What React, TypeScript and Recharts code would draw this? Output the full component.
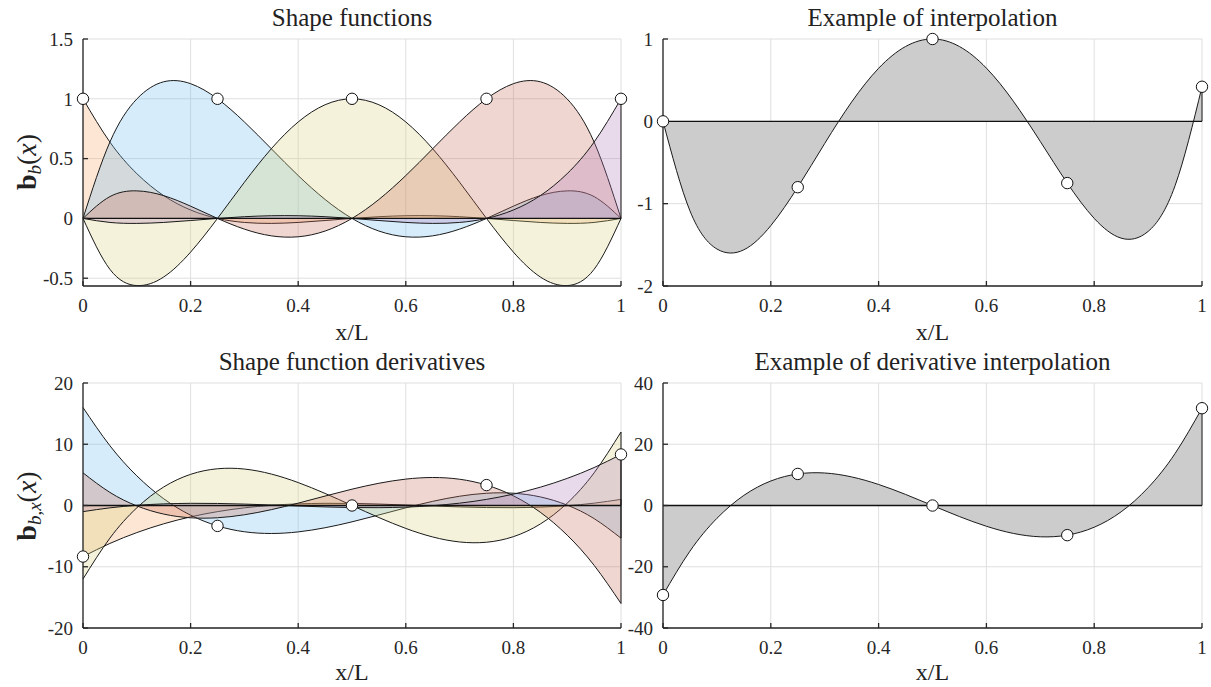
import React from "react";
import {
  ComposedChart,
  Area,
  Scatter,
  XAxis,
  YAxis,
  CartesianGrid,
  ReferenceLine,
} from "recharts";

// sample positions x/L and node positions
const xPos = [0, 0.05, 0.1, 0.15, 0.2, 0.25, 0.3, 0.35, 0.4, 0.45, 0.5, 0.55, 0.6, 0.65, 0.7, 0.75, 0.8, 0.85, 0.9, 0.95, 1];
const nodeX = [0, 0.25, 0.5, 0.75, 1];

// shape functions
const shape1 = [1, 0.6384, 0.3744, 0.1904, 0.0704, 0, -0.0336, -0.0416, -0.0336, -0.0176, 0, 0.0144, 0.0224, 0.0224, 0.0144, 0, -0.0176, -0.0336, -0.0416, -0.0336, 0];
const shape2 = [0, 0.6384, 0.9984, 1.1424, 1.1264, 1, 0.8064, 0.5824, 0.3584, 0.1584, 0, -0.1056, -0.1536, -0.1456, -0.0896, 0, 0.1024, 0.1904, 0.2304, 0.1824, 0];
const shape3 = [0, -0.4256, -0.5616, -0.4896, -0.2816, 0, 0.3024, 0.5824, 0.8064, 0.9504, 1, 0.9504, 0.8064, 0.5824, 0.3024, 0, -0.2816, -0.4896, -0.5616, -0.4256, 0];
const shape4 = [0, 0.1824, 0.2304, 0.1904, 0.1024, 0, -0.0896, -0.1456, -0.1536, -0.1056, 0, 0.1584, 0.3584, 0.5824, 0.8064, 1, 1.1264, 1.1424, 0.9984, 0.6384, 0];
const shape5 = [0, -0.0336, -0.0416, -0.0336, -0.0176, 0, 0.0144, 0.0224, 0.0224, 0.0144, 0, -0.0176, -0.0336, -0.0416, -0.0336, 0, 0.0704, 0.1904, 0.3744, 0.6384, 1];

// example interpolation
const interp = [0, -1.0872, -1.5506, -1.5604, -1.2669, -0.8, -0.2695, 0.2351, 0.6443, 0.9089, 1, 0.9087, 0.6464, 0.2446, -0.2448, -0.75, -1.1788, -1.4188, -1.3375, -0.7822, 0.42];

// shape function derivatives
const dShape1 = [-8.3333, -6.1947, -4.424, -2.9893, -1.8587, -1, -0.3813, 0.0293, 0.264, 0.3547, 0.3333, 0.232, 0.0827, -0.0827, -0.232, -0.3333, -0.3547, -0.264, -0.0293, 0.3813, 1];
const dShape2 = [16, 9.7653, 4.8427, 1.104, -1.5787, -3.3333, -4.288, -4.5707, -4.3093, -3.632, -2.6667, -1.5413, -0.384, 0.6773, 1.5147, 2, 2.0053, 1.4027, 0.064, -2.1387, -5.3333];
const dShape3 = [-12, -5.328, -0.384, 3.024, 5.088, 6, 5.952, 5.136, 3.744, 1.968, 0, -1.968, -3.744, -5.136, -5.952, -6, -5.088, -3.024, 0.384, 5.328, 12];
const dShape4 = [5.3333, 2.1387, -0.064, -1.4027, -2.0053, -2, -1.5147, -0.6773, 0.384, 1.5413, 2.6667, 3.632, 4.3093, 4.5707, 4.288, 3.3333, 1.5787, -1.104, -4.8427, -9.7653, -16];
const dShape5 = [-1, -0.3813, 0.0293, 0.264, 0.3547, 0.3333, 0.232, 0.0827, -0.0827, -0.232, -0.3333, -0.3547, -0.264, -0.0293, 0.3813, 1, 1.8587, 2.9893, 4.424, 6.1947, 8.3333];

// example derivative interpolation
const dInterp = [-29.22, -14.904, -4.198, 3.304, 8.004, 10.307, 10.616, 9.335, 6.869, 3.62, -0.007, -3.608, -6.78, -9.118, -10.22, -9.68, -7.096, -2.063, 5.823, 16.965, 31.767];

// node markers
const shapeNodes = [1, 1, 1, 1, 1];
const interpNodes = [0, -0.8, 1, -0.75, 0.42];
const dShapeNodes = [-8.3333, -3.3333, 0, 3.3333, 8.3333];
const dInterpNodes = [-29.22, 10.307, -0.007, -9.68, 31.767];

// ticks
const xTicks = [0, 0.2, 0.4, 0.6, 0.8, 1];
const shapeTicks = [-0.5, 0, 0.5, 1, 1.5];
const interpTicks = [-2, -1, 0, 1];
const dShapeTicks = [-20, -10, 0, 10, 20];
const dInterpTicks = [-40, -20, 0, 20, 40];

const W = 1211;
const H = 687;
const FONT = "'Liberation Serif', 'DejaVu Serif', serif";
const AXIS = "#262626";
const EDGE = "#1a1a1a";
const SHAPE_FILLS = ["#F8A566", "#6DBBEE", "#D8D27A", "#C86A55", "#B07AB8"];
const GRAY_FILL = ["#cccccc"];

type Box = { left: number; right: number; top: number; bottom: number };

type PanelProps = {
  series: number[][];
  fills: string[];
  fillOpacity: number;
  nodes: number[];
  yDomain: [number, number];
  yTicks: number[];
  box: Box;
};

function Panel({ series, fills, fillOpacity, nodes, yDomain, yTicks, box }: PanelProps) {
  const rows = xPos.map((x, i) => {
    const row: Record<string, number> = { x };
    series.forEach((s, j) => {
      row["s" + j] = s[i];
    });
    return row;
  });
  const nodeRows = nodeX.map((x, i) => ({ x, y: nodes[i] }));
  const last = xPos.length - 1;
  const tickStyle = { fontSize: 19, fill: AXIS, fontFamily: FONT };

  return (
    <div style={{ position: "absolute", left: 0, top: 0 }}>
      <ComposedChart
        width={W}
        height={H}
        data={rows}
        margin={{
          top: box.top,
          left: box.left - 60,
          right: W - box.right,
          bottom: H - box.bottom - 30,
        }}
      >
        <CartesianGrid stroke="#dfdfdf" strokeWidth={1} />
        <XAxis
          dataKey="x"
          type="number"
          domain={[0, 1]}
          ticks={xTicks}
          interval={0}
          height={30}
          tickSize={-5}
          tickMargin={18}
          tick={tickStyle}
          axisLine={{ stroke: AXIS, strokeWidth: 1.3 }}
          tickLine={{ stroke: AXIS, strokeWidth: 1.3 }}
        />
        <YAxis
          type="number"
          domain={yDomain}
          ticks={yTicks}
          interval={0}
          width={60}
          tickSize={-5}
          tickMargin={15}
          tick={tickStyle}
          axisLine={{ stroke: AXIS, strokeWidth: 1.3 }}
          tickLine={{ stroke: AXIS, strokeWidth: 1.3 }}
        />
        {series.map((_, j) => (
          <Area
            key={"a" + j}
            dataKey={"s" + j}
            type="natural"
            baseValue={0}
            fill={fills[j]}
            fillOpacity={fillOpacity}
            stroke={EDGE}
            strokeWidth={1}
            dot={false}
            activeDot={false}
            isAnimationActive={false}
          />
        ))}
        {series.map((s, j) => (
          <ReferenceLine
            key={"e" + j}
            segment={[
              { x: 1, y: 0 },
              { x: 1, y: s[last] },
            ]}
            stroke={EDGE}
            strokeWidth={1}
          />
        ))}
        <ReferenceLine y={0} stroke="#111" strokeWidth={1.4} />
        <Scatter
          data={nodeRows}
          dataKey="y"
          isAnimationActive={false}
          shape={(p: any) => (
            <circle cx={p.cx} cy={p.cy} r={5.7} fill="#fff" stroke="#111" strokeWidth={1} />
          )}
        />
      </ComposedChart>
    </div>
  );
}

const LEFT_TOP: Box = { left: 83, right: 621, top: 39, bottom: 286 };
const RIGHT_TOP: Box = { left: 663, right: 1202, top: 39, bottom: 286 };
const LEFT_BOT: Box = { left: 83, right: 621, top: 383, bottom: 628 };
const RIGHT_BOT: Box = { left: 663, right: 1202, top: 383, bottom: 628 };

function Texts() {
  const cl = (LEFT_TOP.left + LEFT_TOP.right) / 2;
  const cr = (RIGHT_TOP.left + RIGHT_TOP.right) / 2;
  return (
    <svg
      width={W}
      height={H}
      style={{ position: "absolute", left: 0, top: 0, pointerEvents: "none", fontFamily: FONT }}
      fill="#222"
    >
      <text x={cl} y={26} textAnchor="middle" fontSize={25}>Shape functions</text>
      <text x={cr} y={26} textAnchor="middle" fontSize={25}>Example of interpolation</text>
      <text x={cl} y={370} textAnchor="middle" fontSize={25}>Shape function derivatives</text>
      <text x={cr} y={370} textAnchor="middle" fontSize={25}>Example of derivative interpolation</text>

      <text x={cl} y={340} textAnchor="middle" fontSize={24}>x/L</text>
      <text x={cr} y={340} textAnchor="middle" fontSize={24}>x/L</text>
      <text x={cl} y={680} textAnchor="middle" fontSize={24}>x/L</text>
      <text x={cr} y={680} textAnchor="middle" fontSize={24}>x/L</text>

      <text transform="translate(36,162) rotate(-90)" textAnchor="middle" fontSize={28}>
        <tspan fontWeight="bold">b</tspan>
        <tspan fontStyle="italic" fontSize={19} dy={5}>b</tspan>
        <tspan dy={-5}>(</tspan>
        <tspan fontStyle="italic">x</tspan>
        <tspan>)</tspan>
      </text>
      <text transform="translate(36,506) rotate(-90)" textAnchor="middle" fontSize={28}>
        <tspan fontWeight="bold">b</tspan>
        <tspan fontStyle="italic" fontSize={19} dy={5}>b</tspan>
        <tspan fontSize={19}>,</tspan>
        <tspan fontStyle="italic" fontSize={19}>x</tspan>
        <tspan dy={-5}>(</tspan>
        <tspan fontStyle="italic">x</tspan>
        <tspan>)</tspan>
      </text>
    </svg>
  );
}

export default function App() {
  return (
    <div style={{ position: "absolute", left: 0, top: 0, width: W, height: H, background: "#fff" }}>
      <Panel
        series={[shape1, shape2, shape3, shape4, shape5]}
        fills={SHAPE_FILLS}
        fillOpacity={0.28}
        nodes={shapeNodes}
        yDomain={[-0.565, 1.5]}
        yTicks={shapeTicks}
        box={LEFT_TOP}
      />
      <Panel
        series={[interp]}
        fills={GRAY_FILL}
        fillOpacity={1}
        nodes={interpNodes}
        yDomain={[-2, 1]}
        yTicks={interpTicks}
        box={RIGHT_TOP}
      />
      <Panel
        series={[dShape1, dShape2, dShape3, dShape4, dShape5]}
        fills={SHAPE_FILLS}
        fillOpacity={0.28}
        nodes={dShapeNodes}
        yDomain={[-20, 20]}
        yTicks={dShapeTicks}
        box={LEFT_BOT}
      />
      <Panel
        series={[dInterp]}
        fills={GRAY_FILL}
        fillOpacity={1}
        nodes={dInterpNodes}
        yDomain={[-40, 40]}
        yTicks={dInterpTicks}
        box={RIGHT_BOT}
      />
      <Texts />
    </div>
  );
}
